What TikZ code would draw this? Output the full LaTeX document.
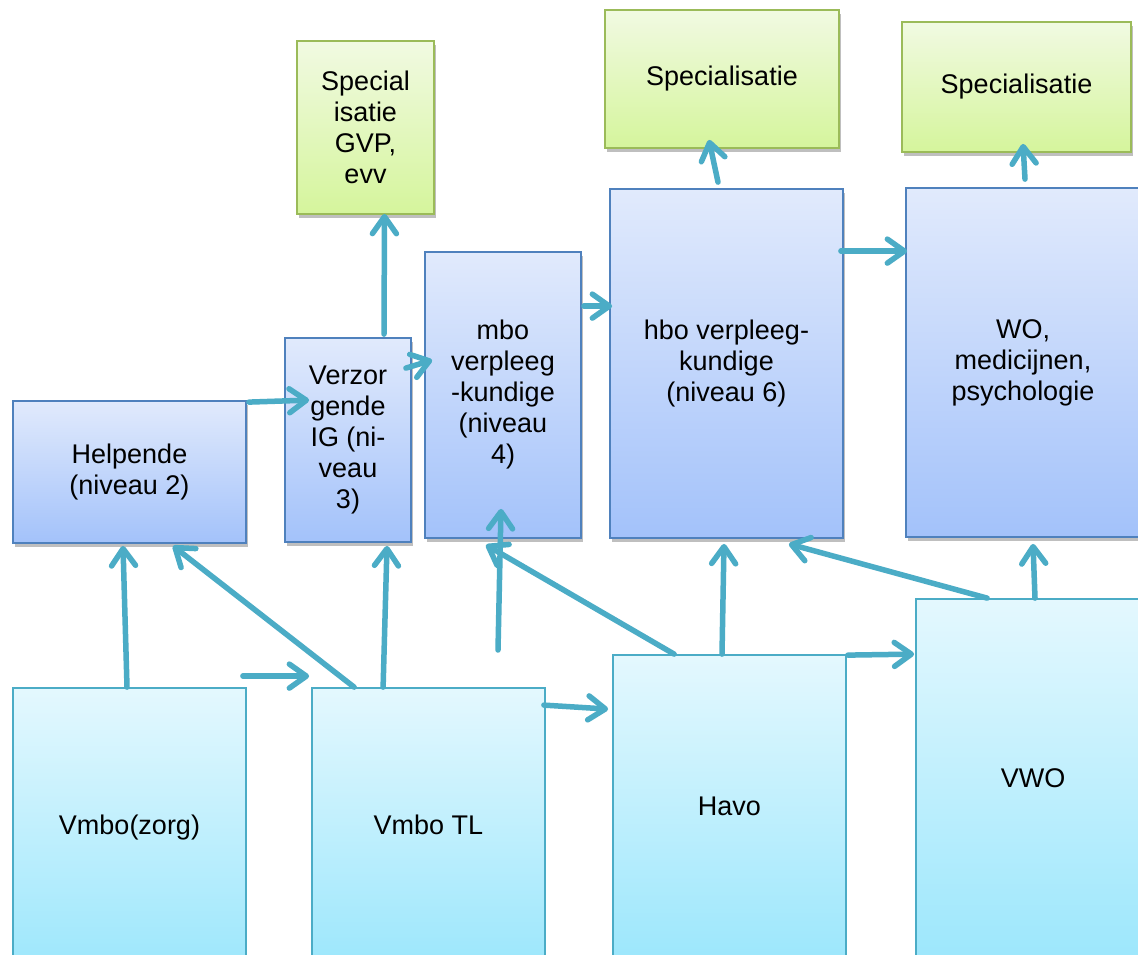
\documentclass[tikz,border=0pt]{standalone}
\usepackage{fontspec}
\setmainfont{Liberation Sans}
\usetikzlibrary{arrows.meta,shadows,calc}
\definecolor{bluetop}{HTML}{E1EAFC}
\definecolor{bluebot}{HTML}{A3C2FA}
\definecolor{bluedraw}{HTML}{4F81BD}
\definecolor{greentop}{HTML}{F1FAE2}
\definecolor{greenbot}{HTML}{D5F59C}
\definecolor{greendraw}{HTML}{9BBB59}
\definecolor{cyantop}{HTML}{E4F8FE}
\definecolor{cyanbot}{HTML}{9DE7FC}
\definecolor{cyandraw}{HTML}{4BACC6}
\definecolor{arrowc}{HTML}{4BACC6}
\begin{document}
\begin{tikzpicture}[x=1pt,y=-1pt,
  box/.style={draw, line width=1.8pt, rectangle, inner sep=0pt, align=center,
    font=\fontsize{27}{31}\selectfont},
  bluebox/.style={box, draw=bluedraw, top color=bluetop, bottom color=bluebot,
    drop shadow={shadow xshift=1.5pt, shadow yshift=-4pt, opacity=0.25, fill=black}},
  greenbox/.style={box, draw=greendraw, top color=greentop, bottom color=greenbot,
    drop shadow={shadow xshift=1.5pt, shadow yshift=-4pt, opacity=0.25, fill=black}},
  cyanbox/.style={box, draw=cyandraw, top color=cyantop, bottom color=cyanbot},
  conn/.style={draw=arrowc, line width=5.5pt, line cap=round,
    -{Straight Barb[length=17pt,width=24pt,round]}},
]
\clip (0,0) rectangle (1138,954);
\fill[white] (0,0) rectangle (1138,954);
% green boxes
\node[greenbox, minimum width=137pt, minimum height=173pt] (gvp) at (365.5,127.5) {Special\\isatie\\GVP,\\evv};
\node[greenbox, minimum width=234pt, minimum height=138pt] (spm) at (722,79) {Specialisatie};
\node[greenbox, minimum width=229pt, minimum height=130pt] (spr) at (1016.5,87) {Specialisatie};
% blue boxes
\node[bluebox, minimum width=233pt, minimum height=142pt] (help) at (129.5,472) {Helpende\\(niveau 2)};
\node[bluebox, minimum width=126pt, minimum height=204pt] (verz) at (348,440) {Verzor\\gende\\IG (ni-\\veau\\3)};
\node[bluebox, minimum width=156pt, minimum height=286pt] (mbo) at (503,395) {mbo\\verpleeg\\-kundige\\(niveau\\4)};
\node[bluebox, minimum width=233pt, minimum height=349pt] (hbo) at (726.5,363.5) {hbo verpleeg-\\kundige\\(niveau 6)};
\node[bluebox, minimum width=234pt, minimum height=349pt] (wo) at (1023,362.5) {WO,\\medicijnen,\\psychologie};
% cyan boxes
\node[cyanbox, minimum width=233pt, minimum height=280pt] (vz) at (129.5,828) {Vmbo(zorg)};
\node[cyanbox, minimum width=233pt, minimum height=274pt] (vtl) at (428.5,825) {Vmbo TL};
\node[cyanbox, minimum width=233pt, minimum height=302pt] (havo) at (729.5,806) {Havo};
\node[cyanbox, minimum width=234pt, minimum height=358pt] (vwo) at (1033,778) {VWO};
\coordinate (free) at (498,650);
% connectors
\draw[conn] ($(vz.north)+(-2.5,0)$) -- ($(help.south)+(-6.5,2)$);
\draw[conn] ($(vz.north east)+(-4,-11)$) -- ($(vtl.north west)+(-2,-11)$);
\draw[conn] ($(vtl.north west)+(43,0)$) -- ($(help.south east)+(-74,2)$);
\draw[conn] ($(vtl.north west)+(72,0)$) -- ($(verz.south)+(39,3)$);
\draw[conn] ($(help.north east)+(2,2)$) -- ($(verz.north west)+(25,63)$);
\draw[conn] ($(verz.north)+(36,-3)$) -- ($(gvp.south)+(19,-1)$);
\draw[conn] ($(verz.north east)+(-6,31)$) -- ($(mbo.north west)+(8,109)$);
\draw[conn] (free) -- ($(mbo.south)+(-2,-30)$);
\draw[conn] ($(havo.north west)+(62,0)$) -- ($(mbo.south)+(-17,6)$);
\draw[conn] ($(havo.north)+(-7.5,0)$) -- ($(hbo.south)+(-2.5,5)$);
\draw[conn] ($(vtl.north east)+(-2,18)$) -- ($(havo.north west)+(-4,55)$);
\draw[conn] ($(havo.north east)+(1,1)$) -- ($(vwo.north west)+(-1,56)$);
\draw[conn] ($(vwo.north west)+(72,0)$) -- ($(hbo.south east)+(-55,5)$);
\draw[conn] ($(vwo.north)+(2,0)$) -- ($(wo.south)+(10,6)$);
\draw[conn] ($(hbo.north east)+(-3,63)$) -- ($(wo.north west)+(2,64)$);
\draw[conn] ($(mbo.north east)+(2,55)$) -- ($(hbo.north west)+(3,118)$);
\draw[conn] ($(hbo.north)+(-8.5,-6)$) -- ($(spm.south)+(-13,-9)$);
\draw[conn] ($(wo.north)+(2,-8)$) -- ($(spr.south)+(6.5,-9)$);
\end{tikzpicture}
\end{document}
